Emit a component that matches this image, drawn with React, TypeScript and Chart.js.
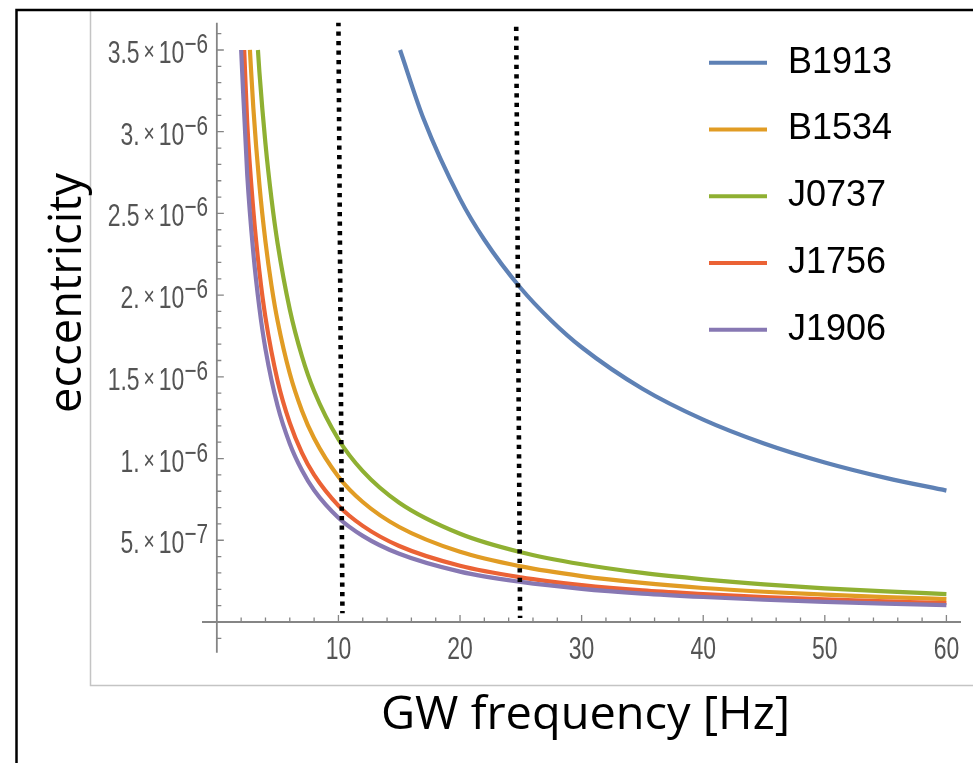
import React, { useEffect, useRef } from "react";
import { Chart, registerables } from "chart.js";

Chart.register(...registerables);

// ---------- data ----------
const seriesNames = ["B1913", "B1534", "J0737", "J1756", "J1906"];
const seriesColors = ["#5E81B5", "#E19C24", "#8FB032", "#EB6235", "#8778B3"];

const freqB1913 = [15.07, 17, 20, 22, 25, 27.5, 30, 35, 40, 45, 50, 55, 60];
const eccB1913 = [3.5e-6, 3.079e-6, 2.589e-6, 2.339e-6, 2.042e-6, 1.845e-6, 1.681e-6, 1.427e-6, 1.238e-6, 1.092e-6, 0.976e-6, 0.882e-6, 0.804e-6];

const freqB1534 = [2.72, 3, 3.5, 4, 4.5, 5, 6, 7, 8, 10, 12, 15, 20, 25, 30, 35, 40, 45, 50, 55, 60];
const eccB1534 = [3.5e-6, 3.147e-6, 2.677e-6, 2.327e-6, 2.056e-6, 1.841e-6, 1.52e-6, 1.293e-6, 1.124e-6, 0.889e-6, 0.734e-6, 0.581e-6, 0.429e-6, 0.34e-6, 0.281e-6, 0.239e-6, 0.208e-6, 0.185e-6, 0.167e-6, 0.152e-6, 0.14e-6];

const freqJ0737 = [3.38, 3.5, 4, 4.5, 5, 6, 7, 8, 10, 12, 15, 20, 25, 30, 35, 40, 45, 50, 55, 60];
const eccJ0737 = [3.5e-6, 3.366e-6, 2.926e-6, 2.586e-6, 2.315e-6, 1.912e-6, 1.626e-6, 1.413e-6, 1.118e-6, 0.923e-6, 0.73e-6, 0.54e-6, 0.427e-6, 0.353e-6, 0.3e-6, 0.261e-6, 0.23e-6, 0.206e-6, 0.187e-6, 0.171e-6];

const freqJ1756 = [2.25, 2.5, 3, 3.5, 4, 5, 6, 7, 8, 10, 12, 15, 20, 25, 30, 35, 40, 45, 50, 55, 60];
const eccJ1756 = [3.5e-6, 3.052e-6, 2.52e-6, 2.144e-6, 1.863e-6, 1.475e-6, 1.218e-6, 1.035e-6, 0.9e-6, 0.712e-6, 0.588e-6, 0.465e-6, 0.344e-6, 0.273e-6, 0.226e-6, 0.193e-6, 0.171e-6, 0.152e-6, 0.138e-6, 0.126e-6, 0.116e-6];

const freqJ1906 = [2.0, 2.5, 3, 3.5, 4, 5, 6, 7, 8, 10, 12, 15, 20, 25, 30, 35, 40, 45, 50, 55, 60];
const eccJ1906 = [3.5e-6, 2.735e-6, 2.259e-6, 1.921e-6, 1.67e-6, 1.321e-6, 1.091e-6, 0.928e-6, 0.806e-6, 0.638e-6, 0.527e-6, 0.417e-6, 0.308e-6, 0.245e-6, 0.203e-6, 0.174e-6, 0.153e-6, 0.136e-6, 0.123e-6, 0.112e-6, 0.103e-6];

// dotted reference markers (hand-drawn, slightly tilted in the original)
const marker1X = [10.0, 10.33];
const marker1Y = [3.671e-6, 0.053e-6];
const marker2X = [24.62, 24.94];
const marker2Y = [3.642e-6, 0.024e-6];

// axes / ticks
const xMin = -1.22;
const xMax = 61.2;
const yMin = -0.188e-6;
const yMax = 3.667e-6;
const xMajorTicks = [10, 20, 30, 40, 50, 60];
const xTickLabels = ["10", "20", "30", "40", "50", "60"];
const xMinorTicks = [2, 4, 6, 8, 12, 14, 16, 18, 22, 24, 26, 28, 32, 34, 36, 38, 42, 44, 46, 48, 52, 54, 56, 58];
const yMajorTicks = [5e-7, 1e-6, 1.5e-6, 2e-6, 2.5e-6, 3e-6, 3.5e-6];
const yTickMantissas = ["5.", "1.", "1.5", "2.", "2.5", "3.", "3.5"];
const yTickExponents = ["\u22127", "\u22126", "\u22126", "\u22126", "\u22126", "\u22126", "\u22126"];
const yMinorTicks = [-1e-7, 1e-7, 2e-7, 3e-7, 4e-7, 6e-7, 7e-7, 8e-7, 9e-7, 1.1e-6, 1.2e-6, 1.3e-6, 1.4e-6, 1.6e-6, 1.7e-6, 1.8e-6, 1.9e-6, 2.1e-6, 2.2e-6, 2.3e-6, 2.4e-6, 2.6e-6, 2.7e-6, 2.8e-6, 2.9e-6, 3.1e-6, 3.2e-6, 3.3e-6, 3.4e-6, 3.6e-6];
const xTitle = "GW frequency [Hz]";
const yTitle = "eccentricity";

const toPoints = (xs: number[], ys: number[]) => xs.map((x, i) => ({ x, y: ys[i] }));

const TICK_FONT = '"Liberation Sans", Arial, sans-serif';
const SX = 0.74;

function scaledText(ctx: CanvasRenderingContext2D, text: string, x: number, y: number, sx: number, align: CanvasTextAlign) {
  ctx.save();
  ctx.translate(x, y);
  ctx.scale(sx, 1);
  ctx.textAlign = align;
  ctx.fillText(text, 0, 0);
  ctx.restore();
}

const decorPlugin = {
  id: "mmaDecor",
  beforeDraw(chart: any) {
    const ctx: CanvasRenderingContext2D = chart.ctx;
    const xs = chart.scales.x;
    const ys = chart.scales.y;
    const area = chart.chartArea;
    ctx.save();
    ctx.fillStyle = "#ffffff";
    ctx.fillRect(0, 0, chart.width, chart.height);
    // gray frame of the pasted plot
    ctx.strokeStyle = "#c4c4c4";
    ctx.lineWidth = 1.5;
    ctx.beginPath();
    ctx.moveTo(90.5, 11);
    ctx.lineTo(90.5, 685.5);
    ctx.lineTo(973, 685.5);
    ctx.stroke();
    // black outer frame
    ctx.strokeStyle = "#000000";
    ctx.lineWidth = 2.5;
    ctx.beginPath();
    ctx.moveTo(16.5, 763);
    ctx.lineTo(16.5, 10);
    ctx.lineTo(973, 10);
    ctx.stroke();

    const x0 = xs.getPixelForValue(0);
    const y0 = ys.getPixelForValue(0);
    ctx.strokeStyle = "#858585";
    ctx.lineWidth = 1.8;
    ctx.beginPath();
    ctx.moveTo(x0, area.top);
    ctx.lineTo(x0, area.bottom);
    ctx.moveTo(area.left, y0);
    ctx.lineTo(area.right, y0);
    ctx.stroke();

    ctx.lineWidth = 1.3;
    ctx.beginPath();
    yMajorTicks.forEach((v) => {
      const p = ys.getPixelForValue(v);
      ctx.moveTo(x0, p);
      ctx.lineTo(x0 + 7, p);
    });
    yMinorTicks.forEach((v) => {
      const p = ys.getPixelForValue(v);
      ctx.moveTo(x0, p);
      ctx.lineTo(x0 + 4.5, p);
    });
    xMajorTicks.forEach((v) => {
      const p = xs.getPixelForValue(v);
      ctx.moveTo(p, y0);
      ctx.lineTo(p, y0 - 7);
    });
    xMinorTicks.forEach((v) => {
      const p = xs.getPixelForValue(v);
      ctx.moveTo(p, y0);
      ctx.lineTo(p, y0 - 4.5);
    });
    ctx.stroke();
    ctx.restore();
  },
  afterDraw(chart: any) {
    const ctx: CanvasRenderingContext2D = chart.ctx;
    const xs = chart.scales.x;
    const ys = chart.scales.y;
    ctx.save();
    ctx.fillStyle = "#545454";
    ctx.textBaseline = "alphabetic";
    // y tick labels  m × 10^e
    const right = 208;
    yMajorTicks.forEach((v, i) => {
      const y = ys.getPixelForValue(v);
      const base = y + 13;
      ctx.font = "28px " + TICK_FONT;
      const wE = ctx.measureText(yTickExponents[i]).width * SX;
      const xE = right - wE;
      scaledText(ctx, yTickExponents[i], xE, y + 3, SX, "left");
      ctx.font = "31px " + TICK_FONT;
      const w10 = ctx.measureText("10").width * SX;
      const x10 = xE - w10;
      scaledText(ctx, "10", x10, base, SX, "left");
      ctx.font = "26px " + TICK_FONT;
      const wT = ctx.measureText("\u00d7").width * SX;
      const xT = x10 - 4 - wT;
      scaledText(ctx, "\u00d7", xT, base - 3, SX, "left");
      ctx.font = "31px " + TICK_FONT;
      scaledText(ctx, yTickMantissas[i], xT - 4, base, SX, "right");
    });
    // x tick labels
    ctx.font = "31px " + TICK_FONT;
    xMajorTicks.forEach((v, i) => {
      const x = xs.getPixelForValue(v);
      scaledText(ctx, xTickLabels[i], x, 659, SX, "center");
    });

    // legend
    const ordered = seriesNames.map((n) => chart.data.datasets.find((d: any) => d.label === n));
    ordered.forEach((d: any, i: number) => {
      const y = 62.7 + i * 66.75;
      ctx.strokeStyle = d.borderColor;
      ctx.lineWidth = 4;
      ctx.lineCap = "butt";
      ctx.beginPath();
      ctx.moveTo(709, y);
      ctx.lineTo(767, y);
      ctx.stroke();
      ctx.fillStyle = "#000000";
      ctx.font = '36px "Liberation Sans", Arial, sans-serif';
      ctx.textAlign = "left";
      ctx.textBaseline = "middle";
      ctx.fillText(d.label, 788, y);
    });

    // axis titles
    ctx.fillStyle = "#000000";
    ctx.textBaseline = "alphabetic";
    ctx.font = '46px "Open Sans", "Noto Sans", sans-serif';
    const wx = ctx.measureText(xTitle).width;
    scaledText(ctx, xTitle, 585.5, 729, 409 / wx, "center");
    const wy = ctx.measureText(yTitle).width;
    ctx.save();
    ctx.translate(80.5, 293);
    ctx.rotate(-Math.PI / 2);
    scaledText(ctx, yTitle, 0, 0, 240 / wy, "center");
    ctx.restore();
    ctx.restore();
  },
};

export default function App() {
  const ref = useRef<HTMLCanvasElement | null>(null);
  useEffect(() => {
    if (!ref.current) return;
    const series = [
      { name: seriesNames[0], xs: freqB1913, ys: eccB1913, order: 5 },
      { name: seriesNames[1], xs: freqB1534, ys: eccB1534, order: 4 },
      { name: seriesNames[2], xs: freqJ0737, ys: eccJ0737, order: 3 },
      { name: seriesNames[3], xs: freqJ1756, ys: eccJ1756, order: 2 },
      { name: seriesNames[4], xs: freqJ1906, ys: eccJ1906, order: 1 },
    ];
    const curveSets = series.map((s, i) => ({
      label: s.name,
      data: toPoints(s.xs, s.ys),
      borderColor: seriesColors[i],
      backgroundColor: seriesColors[i],
      borderWidth: 4.2,
      showLine: true,
      pointRadius: 0,
      cubicInterpolationMode: "monotone" as const,
      borderCapStyle: "butt" as const,
      borderJoinStyle: "round" as const,
      order: s.order,
    }));
    const markerSets = [
      { xs: marker1X, ys: marker1Y },
      { xs: marker2X, ys: marker2Y },
    ].map((m, i) => ({
      label: "marker" + (i + 1),
      data: toPoints(m.xs, m.ys),
      borderColor: "#000000",
      backgroundColor: "#000000",
      borderWidth: 4.6,
      borderDash: [4.3, 5.2],
      borderCapStyle: "butt" as const,
      showLine: true,
      pointRadius: 0,
      order: 0,
    }));
    const chart = new Chart(ref.current, {
      type: "scatter",
      data: { datasets: [...curveSets, ...markerSets] as any },
      options: {
        animation: false,
        responsive: false,
        devicePixelRatio: 1,
        layout: { padding: { left: 202, right: 12, top: 22.7, bottom: 110.3 } },
        scales: {
          x: { type: "linear", min: xMin, max: xMax, display: false },
          y: { type: "linear", min: yMin, max: yMax, display: false },
        },
        plugins: {
          legend: { display: false },
          tooltip: { enabled: false },
        },
        events: [],
      },
      plugins: [decorPlugin as any],
    });
    return () => chart.destroy();
  }, []);
  return (
    <div style={{ position: "absolute", left: 0, top: 0, width: 973, height: 763, background: "#fff" }}>
      <canvas ref={ref} width={973} height={763} style={{ display: "block", width: 973, height: 763 }} />
    </div>
  );
}
